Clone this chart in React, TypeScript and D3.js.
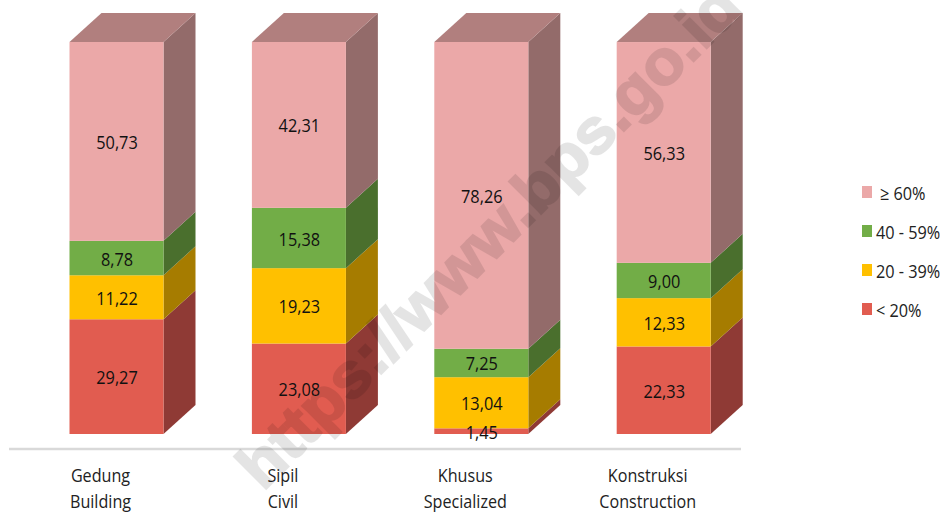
import React from "react";
import * as d3 from "d3";

const categories = ["Gedung", "Sipil", "Khusus", "Konstruksi"];
const categoriesEn = ["Building", "Civil", "Specialized", "Construction"];
const seriesKeys = ["< 20%", "20 - 39%", "40 - 59%", "≥ 60%"];
const lt20 = [29.27, 23.08, 1.45, 22.33];
const s20to39 = [11.22, 19.23, 13.04, 12.33];
const s40to59 = [8.78, 15.38, 7.25, 9.0];
const gte60 = [50.73, 42.31, 78.26, 56.33];
const seriesValues = [lt20, s20to39, s40to59, gte60];
const front = ["#e15c50", "#ffc000", "#72ad47", "#eba8a8"];
const side = ["#8f3a35", "#a67c00", "#4a6f2d", "#936b6a"];
const top = "#b17f7e";

const FONT = "'Open Sans', sans-serif";
const dx = 32;
const dy = 29;
const fmt = (v: number) => v.toFixed(2).replace(".", ",");

function Label(props: { x: number; y: number; size: number; sx: number; anchor?: string; fill?: string; children: React.ReactNode }) {
  return (
    <text
      transform={`translate(${props.x},${props.y}) scale(${props.sx},1)`}
      textAnchor={props.anchor ?? "middle"}
      fontSize={props.size}
      fill={props.fill ?? "#111"}
    >
      {props.children}
    </text>
  );
}

export default function App() {
  const x = d3.scaleBand().domain(categories).range([23.9, 756.3]).paddingInner(0.4846).paddingOuter(0.25);
  const y = d3.scaleLinear().domain([0, 100]).range([434, 42]);
  const w = x.bandwidth();
  const stack = categories.map((_, c) => {
    let acc = 0;
    return seriesValues.map((s) => {
      const y0 = acc;
      acc += s[c];
      return { y0, y1: acc, v: s[c] };
    });
  });
  return (
    <svg width={944} height={512} style={{ position: "fixed", left: 0, top: 0, fontFamily: FONT }}>
      <rect width={944} height={512} fill="#fff" />
      <line x1={9} x2={741} y1={449} y2={449} stroke="#d9d9d9" strokeWidth={2.5} />
      {categories.map((c, i) => {
        const x0 = x(c)!;
        const x1 = x0 + w;
        const segs = stack[i];
        return (
          <g key={c}>
            {segs.map((s, k) => (
              <g key={k}>
                <polygon
                  points={`${x1},${y(s.y0)} ${x1 + dx},${y(s.y0) - dy} ${x1 + dx},${y(s.y1) - dy} ${x1},${y(s.y1)}`}
                  fill={side[k]}
                />
                <rect x={x0} y={y(s.y1)} width={w} height={y(s.y0) - y(s.y1)} fill={front[k]} />
              </g>
            ))}
            <polygon
              points={`${x0},${y(100)} ${x0 + dx},${y(100) - dy} ${x1 + dx},${y(100) - dy} ${x1},${y(100)}`}
              fill={top}
            />
          </g>
        );
      })}
      <text
        transform="translate(263,492) rotate(-45) scale(1.045,1)"
        fontSize={63}
        fontWeight="bold"
        fontFamily="'Liberation Sans', sans-serif"
        fill="#000"
        stroke="#000"
        strokeWidth={2}
        opacity={0.1}
      >
        https://www.bps.go.id
      </text>
      {categories.map((c, i) => {
        const cx = x(c)! + w / 2;
        return (
          <g key={c}>
            {stack[i].map((s, k) => (
              <Label key={k} x={cx + 0.5} y={(y(s.y0) + y(s.y1)) / 2 + 7.5} size={19} sx={0.86}>
                {fmt(s.v)}
              </Label>
            ))}
            <Label x={cx - 16} y={482} size={19} sx={0.85} fill="#222">{c}</Label>
            <Label x={cx - 16} y={508} size={19} sx={0.85} fill="#222">{categoriesEn[i]}</Label>
          </g>
        );
      })}
      {[3, 2, 1, 0].map((k, i) => (
        <g key={k}>
          <rect x={862} y={186 + i * 39} width={10} height={12} fill={front[k]} />
          <Label x={k === 3 ? 880 : 876} y={199.5 + i * 39} size={18.5} sx={0.88} anchor="start" fill="#222">
            {seriesKeys[k]}
          </Label>
        </g>
      ))}
    </svg>
  );
}
